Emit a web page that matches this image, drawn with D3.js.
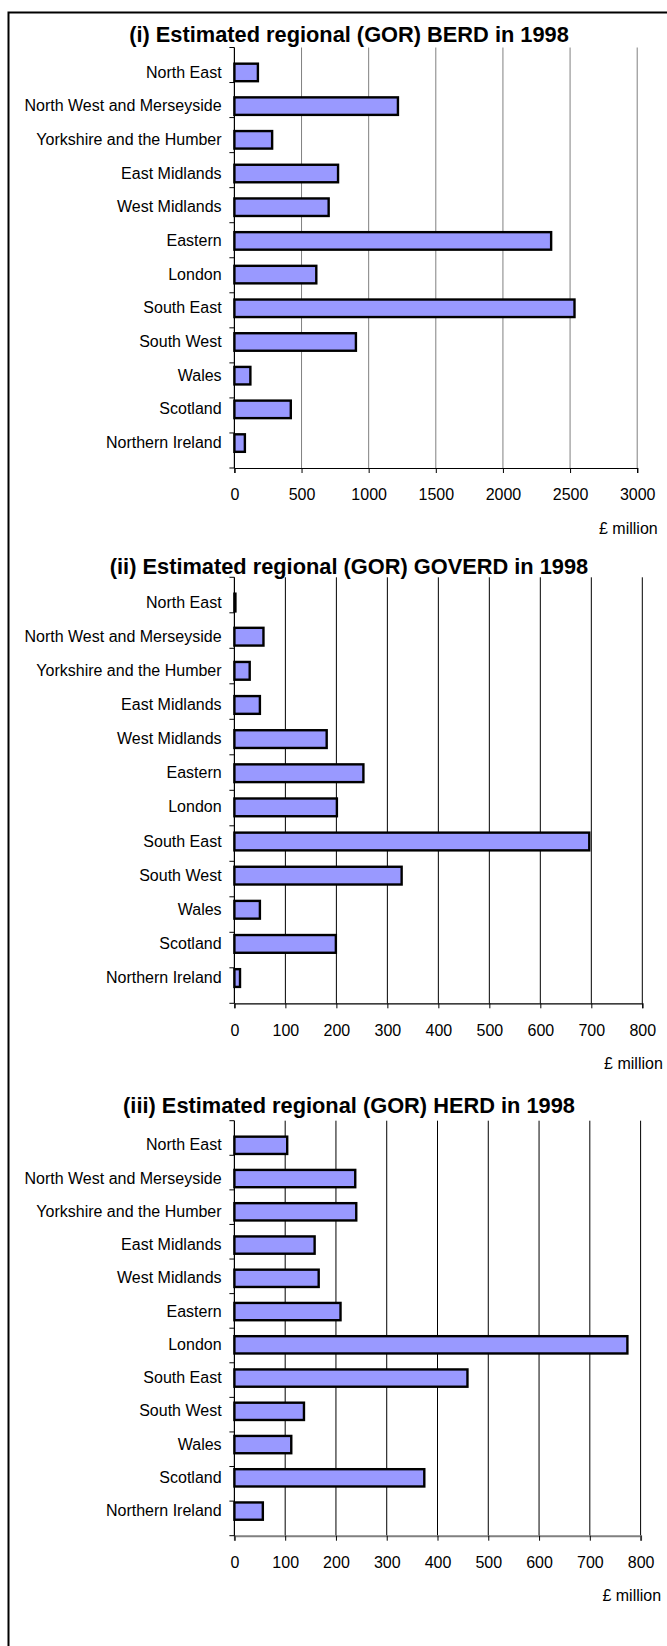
<!DOCTYPE html>
<meta charset="utf-8">
<title>Estimated regional (GOR) R&D in 1998</title>
<style>
  body { margin: 0; background: #fff; }
  svg { display: block; font-family: "Liberation Sans", Arial, sans-serif; }
  .cat text, .xax text { font-size: 16px; fill: #000; }
  .title { font-size: 21.8px; font-weight: bold; }
</style>
<svg id="chart" width="667" height="1646"></svg>
<script src="https://cdnjs.cloudflare.com/ajax/libs/d3/7.8.5/d3.min.js"></script>
<script>

var regions = ["North East", "North West and Merseyside", "Yorkshire and the Humber",
               "East Midlands", "West Midlands", "Eastern", "London", "South East",
               "South West", "Wales", "Scotland", "Northern Ireland"];

// £ million
var berd   = [175, 1218, 281, 772, 702, 2359, 610, 2533, 905, 119, 420, 78];
var goverd = [2, 57, 30, 50, 181, 253, 201, 696, 328, 50, 199, 11];
var herd   = [104, 238, 240, 158, 166, 209, 774, 459, 137, 112, 374, 56];

var berdTicks = [0, 500, 1000, 1500, 2000, 2500, 3000];
var pctTicks  = [0, 100, 200, 300, 400, 500, 600, 700, 800];

var titles = ["(i) Estimated regional (GOR) BERD in 1998",
              "(ii) Estimated regional (GOR) GOVERD in 1998",
              "(iii) Estimated regional (GOR) HERD in 1998"];
var unitLabel = "£ million";

var svg = d3.select("#chart");

// outer frame (only left and top edge fall inside the picture)
svg.append("rect")
  .attr("x", 8.5).attr("y", 12.5)
  .attr("width", 700).attr("height", 1700)
  .attr("fill", "none").attr("stroke", "#000").attr("stroke-width", 2);

var x0 = 234.4;

function drawChart(opt) {
  var g = svg.append("g");

  var x = d3.scaleLinear()
    .domain([0, d3.max(opt.ticks)])
    .range([x0, opt.xMax]);

  var y = d3.scaleBand()
    .domain(regions)
    .range([opt.top, opt.bottom])
    .padding(0.48);

  var yEdge = d3.scaleLinear()
    .domain([0, regions.length])
    .range([opt.top, opt.bottom]);

  // vertical gridlines
  g.append("g").selectAll("line")
    .data(opt.ticks.slice(1))
    .join("line")
      .attr("x1", d => x(d)).attr("x2", d => x(d))
      .attr("y1", opt.top).attr("y2", opt.bottom)
      .attr("stroke", opt.grid).attr("stroke-width", 1);

  // bars
  g.append("g").selectAll("rect")
    .data(opt.values)
    .join("rect")
      .attr("x", x(0))
      .attr("y", (d, i) => y(regions[i]))
      .attr("width", d => x(d) - x(0))
      .attr("height", y.bandwidth())
      .attr("fill", "#9999ff")
      .attr("stroke", "#000")
      .attr("stroke-width", 2.4);

  // x axis
  var xa = g.append("g")
    .attr("class", "xax")
    .attr("transform", "translate(0," + opt.bottom + ")")
    .call(d3.axisBottom(x).tickValues(opt.ticks).tickSize(5).tickPadding(16)
      .tickFormat(d3.format("d")));
  xa.select(".domain").attr("stroke", opt.axis).attr("stroke-width", opt.axis == "#000" ? 1.2 : 2);
  xa.selectAll(".tick line").attr("stroke", "#000");
  xa.attr("font-family", null).attr("font-size", null);

  // category axis: line, ticks at band edges, labels at band centres
  g.append("line")
    .attr("x1", x0).attr("x2", x0)
    .attr("y1", opt.top).attr("y2", opt.bottom)
    .attr("stroke", "#000").attr("stroke-width", 1.2);
  g.append("g").selectAll("line")
    .data(d3.range(regions.length + 1))
    .join("line")
      .attr("x1", x0 - 5).attr("x2", x0)
      .attr("y1", d => yEdge(d)).attr("y2", d => yEdge(d))
      .attr("stroke", "#000");

  var ya = g.append("g")
    .attr("class", "cat")
    .attr("transform", "translate(" + x0 + ",0)")
    .call(d3.axisLeft(y).tickSize(0).tickPadding(12.8));
  ya.select(".domain").remove();
  ya.attr("font-family", null).attr("font-size", null);

  g.append("text")
    .attr("class", "title")
    .attr("x", 349).attr("y", opt.titleY)
    .attr("text-anchor", "middle")
    .text(opt.title);

  g.append("text")
    .attr("x", opt.xMax + 20.5).attr("y", opt.bottom + 65.5)
    .attr("text-anchor", "end")
    .attr("font-size", 16)
    .text(unitLabel);
}

drawChart({ title: titles[0], values: berd, ticks: berdTicks, titleY: 41.5,
            top: 47.5, bottom: 468, xMax: 637.2, grid: "#808080", axis: "#000" });
drawChart({ title: titles[1], values: goverd, ticks: pctTicks, titleY: 573.5,
            top: 577.3, bottom: 1003.3, xMax: 642.3, grid: "#000", axis: "#000" });
drawChart({ title: titles[2], values: herd, ticks: pctTicks, titleY: 1112.5,
            top: 1120.7, bottom: 1535.7, xMax: 640.6, grid: "#000", axis: "#808080" });
</script>
